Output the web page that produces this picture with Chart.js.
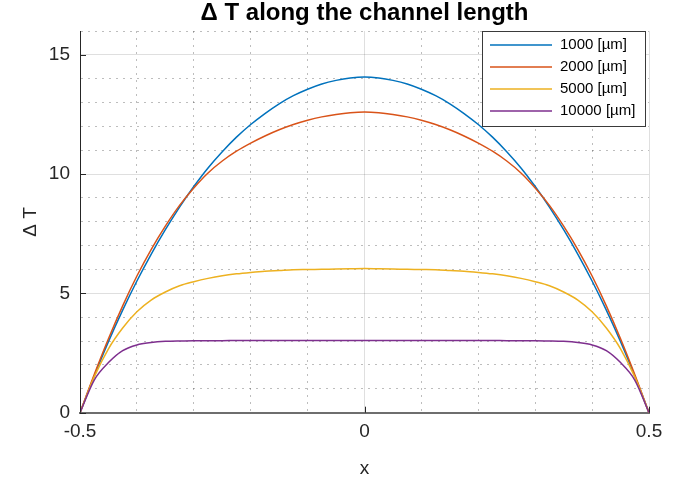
<!DOCTYPE html>
<html>
<head>
<meta charset="utf-8">
<script src="https://cdn.jsdelivr.net/npm/chart.js@4.4.1/dist/chart.umd.min.js"></script>
<style>
  html, body { margin: 0; padding: 0; background: #fff; }
  #wrap { width: 687px; height: 482px; }
</style>
</head>
<body>
<div id="wrap"><canvas id="chart"></canvas></div>
<script>
// x positions along the channel (normalised)
const xPositions = [
  -0.5, -0.475, -0.45, -0.425, -0.4, -0.375, -0.35, -0.325, -0.3, -0.275,
  -0.25, -0.225, -0.2, -0.175, -0.15, -0.125, -0.1, -0.075, -0.05, -0.025,
  0,
  0.025, 0.05, 0.075, 0.1, 0.125, 0.15, 0.175, 0.2, 0.225, 0.25,
  0.275, 0.3, 0.325, 0.35, 0.375, 0.4, 0.425, 0.45, 0.475, 0.5
];

const seriesLabels = ['1000 [µm]', '2000 [µm]', '5000 [µm]', '10000 [µm]'];
const seriesColors = ['#0072BD', '#D95319', '#EDB120', '#7E2F8E'];

// delta T, one array per channel width
const deltaT1000 = [
  0, 1.54, 2.98, 4.30, 5.52, 6.64, 7.67, 8.62, 9.48, 10.26,
  10.94, 11.55, 12.08, 12.54, 12.95, 13.29, 13.56, 13.78, 13.93, 14.03,
  14.07,
  14.03, 13.93, 13.78, 13.56, 13.29, 12.95, 12.54, 12.08, 11.55, 10.94,
  10.26, 9.48, 8.62, 7.67, 6.64, 5.52, 4.30, 2.98, 1.54, 0
];
const deltaT2000 = [
  0, 1.60, 3.10, 4.48, 5.73, 6.84, 7.82, 8.69, 9.42, 10.05,
  10.55, 10.96, 11.30, 11.60, 11.86, 12.08, 12.26, 12.40, 12.50, 12.57,
  12.60,
  12.57, 12.50, 12.40, 12.26, 12.08, 11.86, 11.60, 11.30, 10.96, 10.55,
  10.05, 9.42, 8.69, 7.82, 6.84, 5.73, 4.48, 3.10, 1.60, 0
];
const deltaT5000 = [
  0, 1.50, 2.68, 3.55, 4.23, 4.72, 5.06, 5.32, 5.49, 5.63,
  5.74, 5.82, 5.88, 5.93, 5.96, 5.99, 6.00, 6.01, 6.02, 6.03,
  6.04,
  6.03, 6.02, 6.01, 6.00, 5.99, 5.96, 5.93, 5.88, 5.82, 5.74,
  5.63, 5.49, 5.32, 5.06, 4.72, 4.23, 3.55, 2.68, 1.50, 0
];
const deltaT10000 = [
  0, 1.37, 2.10, 2.60, 2.84, 2.94, 2.99, 3.01, 3.02, 3.02,
  3.02, 3.03, 3.03, 3.03, 3.03, 3.03, 3.03, 3.03, 3.03, 3.03,
  3.03,
  3.03, 3.03, 3.03, 3.03, 3.03, 3.03, 3.03, 3.03, 3.03, 3.02,
  3.02, 3.02, 3.01, 2.99, 2.94, 2.84, 2.60, 2.10, 1.37, 0
];

const xMajorTicks = [-0.5, 0, 0.5];
const yMajorTicks = [0, 5, 10, 15];

const allSeries = [deltaT1000, deltaT2000, deltaT5000, deltaT10000];

const FONT = '"Liberation Sans", Arial, sans-serif';

function findMajor(list, v) {
  return list.find(t => Math.abs(t - v) < 1e-6);
}

// MATLAB style: major ticks point inwards
const innerTicks = {
  id: 'innerTicks',
  afterDatasetsDraw(chart) {
    const { ctx, chartArea, scales } = chart;
    ctx.save();
    ctx.strokeStyle = '#262626';
    ctx.lineWidth = 1;
    ctx.beginPath();
    xMajorTicks.forEach(t => {
      const px = Math.round(scales.x.getPixelForValue(t)) + 0.5;
      ctx.moveTo(px, chartArea.bottom);
      ctx.lineTo(px, chartArea.bottom - 6);
    });
    yMajorTicks.forEach(t => {
      const py = Math.round(scales.y.getPixelForValue(t)) + 0.5;
      ctx.moveTo(chartArea.left, py);
      ctx.lineTo(chartArea.left + 6, py);
    });
    ctx.stroke();
    ctx.restore();
  }
};

// legend box in the top right corner
const boxLegend = {
  id: 'boxLegend',
  afterDraw(chart) {
    const { ctx, chartArea } = chart;
    const w = 163, h = 95;
    const left = chartArea.right - 4 - w;
    const top = chartArea.top;
    ctx.save();
    ctx.fillStyle = '#fff';
    ctx.fillRect(left, top, w, h);
    ctx.strokeStyle = '#3a3a3a';
    ctx.lineWidth = 1;
    ctx.strokeRect(Math.round(left) + 0.5, Math.round(top) + 0.5, w, h);
    ctx.font = '15px ' + FONT;
    ctx.textBaseline = 'middle';
    ctx.fillStyle = '#000';
    chart.data.datasets.forEach((ds, i) => {
      const y = top + 14 + i * 22;
      ctx.strokeStyle = ds.borderColor;
      ctx.lineWidth = 1.5;
      ctx.beginPath();
      ctx.moveTo(left + 8, y);
      ctx.lineTo(left + 70, y);
      ctx.stroke();
      ctx.fillText(ds.label, left + 78, y);
    });
    ctx.restore();
  }
};

const minorDash = [2, 5];

new Chart(document.getElementById('chart'), {
  type: 'line',
  data: {
    datasets: allSeries.map((vals, i) => ({
      label: seriesLabels[i],
      data: xPositions.map((x, j) => ({ x: x, y: vals[j] })),
      borderColor: seriesColors[i],
      backgroundColor: seriesColors[i],
      borderWidth: 1.5,
      pointRadius: 0,
      cubicInterpolationMode: 'monotone',
      fill: false,
      order: 3 - i
    }))
  },
  options: {
    responsive: true,
    maintainAspectRatio: false,
    animation: false,
    layout: { padding: { left: 0, right: 38, top: 0, bottom: 0 } },
    plugins: {
      legend: { display: false },
      tooltip: { enabled: false },
      title: {
        display: true,
        fullSize: false,
        text: 'Δ T along the channel length',
        color: '#000',
        font: { family: FONT, size: 24, weight: 'bold', lineHeight: 1.0 },
        padding: { top: 1, bottom: 6 }
      }
    },
    scales: {
      x: {
        type: 'linear',
        min: -0.5,
        max: 0.5,
        afterFit(scale) { scale.height = 69.3; },
        ticks: {
          stepSize: 0.1,
          autoSkip: false,
          maxRotation: 0,
          padding: 8,
          color: '#262626',
          font: { family: FONT, size: 19 },
          callback: (v) => {
            const m = findMajor(xMajorTicks, v);
            return m === undefined ? '' : String(m);
          }
        },
        grid: {
          drawTicks: false,
          lineWidth: 1,
          color: (c) => (c.tick && findMajor(xMajorTicks, c.tick.value) !== undefined)
            ? 'rgba(38,38,38,0.15)' : 'rgba(38,38,38,0.3)'
        },
        border: {
          display: true,
          color: '#6e6e6e',
          width: 2,
          dash: (c) => (c.tick && findMajor(xMajorTicks, c.tick.value) === undefined) ? minorDash : []
        },
        title: {
          display: true,
          text: 'x',
          color: '#262626',
          font: { family: FONT, size: 19 },
          padding: { top: 0, bottom: 2 }
        }
      },
      y: {
        type: 'linear',
        min: 0,
        max: 16,
        afterFit(scale) { scale.width = 80; },
        ticks: {
          stepSize: 1,
          autoSkip: false,
          padding: 10,
          color: '#262626',
          font: { family: FONT, size: 19 },
          callback: (v) => {
            const m = findMajor(yMajorTicks, v);
            return m === undefined ? '' : String(m);
          }
        },
        grid: {
          drawTicks: false,
          lineWidth: 1,
          color: (c) => (c.tick && findMajor(yMajorTicks, c.tick.value) !== undefined)
            ? 'rgba(38,38,38,0.15)' : 'rgba(38,38,38,0.3)'
        },
        border: {
          display: true,
          color: '#262626',
          width: 1,
          dash: (c) => (c.tick && findMajor(yMajorTicks, c.tick.value) === undefined) ? minorDash : []
        },
        title: {
          display: true,
          text: 'Δ T',
          color: '#262626',
          font: { family: FONT, size: 19 },
          padding: { top: 19.6, bottom: 0 }
        }
      }
    }
  },
  plugins: [innerTicks, boxLegend]
});
</script>
</body>
</html>
